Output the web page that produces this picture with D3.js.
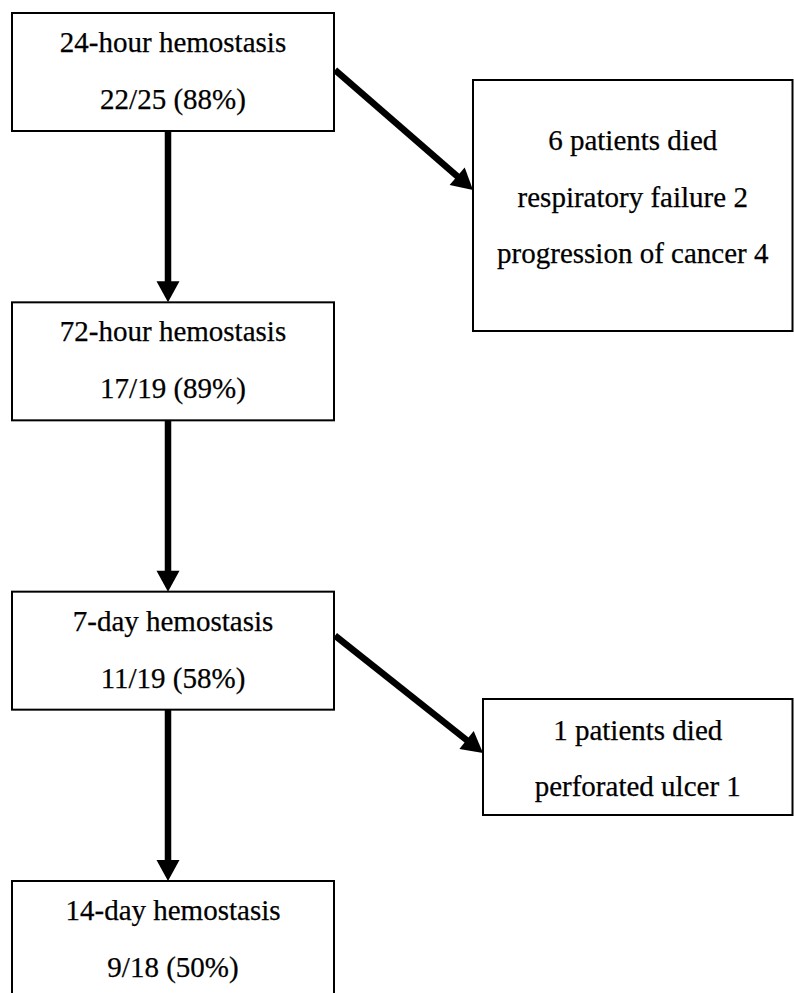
<!DOCTYPE html>
<html>
<head>
<meta charset="utf-8">
<script src="https://cdn.jsdelivr.net/npm/d3@7"></script>
<style>
  html, body { margin: 0; padding: 0; background: #fff; }
  svg { display: block; }
  text { font-family: "Liberation Serif", "Times New Roman", serif; fill: #000; stroke: #000; stroke-width: 0.25px; }
</style>
</head>
<body>
<svg id="chart" width="794" height="993"></svg>
<script>
// stages of follow-up (main column)
const stageLabels = ["24-hour hemostasis", "72-hour hemostasis", "7-day hemostasis", "14-day hemostasis"];
const stageHemostasis = [22, 17, 11, 9];
const stageTotals = [25, 19, 19, 18];
const stagePercents = [88, 89, 58, 50];

// deaths branching off to the right
const deathAfterStage = [0, 2];
const deathCounts = [6, 1];
const deathCauses = [
  ["respiratory failure 2", "progression of cancer 4"],
  ["perforated ulcer 1"]
];

const svg = d3.select("#chart");
const W = 794, H = 993;

// vertical position of each stage box
let stageY = d3.scaleLinear().domain([0, 3]).range([13, 881]);
const mainX0 = 12, mainX1 = 334, boxH = 118;
const mainCx = 168;
const fontSize = "29px";

// side boxes (deaths)
const sideBoxes = [
  { x0: 473, x1: 792.5, y0: 80, y1: 331, fromY: 57, toY: 190 },
  { x0: 483, x1: 792.5, y0: 699, y1: 815, fromY: 44, toY: 753 }
];

let arrows = svg.append("g");
let boxes = svg.append("g");

function arrow(x1, y1, x2, y2) {
  let dx = x2 - x1, dy = y2 - y1;
  let len = Math.sqrt(dx * dx + dy * dy);
  let ux = dx / len, uy = dy / len;
  let headLen = 21, headW = 11.5;
  let bx = x2 - ux * headLen, by = y2 - uy * headLen;
  arrows.append("line")
        .attr("x1", x1).attr("y1", y1)
        .attr("x2", bx + ux * 2).attr("y2", by + uy * 2)
        .attr("stroke", "#000")
        .attr("stroke-width", 6.5);
  arrows.append("path")
        .attr("d", "M" + x2 + "," + y2 +
                   "L" + (bx - uy * headW) + "," + (by + ux * headW) +
                   "L" + (bx + uy * headW) + "," + (by - ux * headW) + "Z")
        .attr("fill", "#000");
}

// vertical arrows between stages
for (let i = 0; i < stageLabels.length - 1; i++) {
  arrow(mainCx, stageY(i) + boxH, mainCx, stageY(i + 1));
}

// diagonal arrows to death boxes
deathAfterStage.forEach((s, i) => {
  let b = sideBoxes[i];
  arrow(mainX1 + 1, stageY(s) + b.fromY, b.x0, b.toY);
});

// stage boxes
let stage = boxes.selectAll("g.stage")
                 .data(stageLabels)
                 .enter()
                 .append("g")
                 .attr("class", "stage")
                 .attr("transform", (d, i) => "translate(0," + stageY(i) + ")");

stage.append("rect")
     .attr("x", mainX0)
     .attr("y", 0)
     .attr("width", mainX1 - mainX0)
     .attr("height", (d, i) => i === 3 ? H : boxH)
     .attr("fill", "#fff")
     .attr("stroke", "#000")
     .attr("stroke-width", 2);

stage.append("text")
     .attr("x", (mainX0 + mainX1) / 2)
     .attr("y", 29)
     .attr("dy", "0.35em")
     .attr("text-anchor", "middle")
     .attr("font-size", fontSize)
     .text(d => d);

stage.append("text")
     .attr("x", (mainX0 + mainX1) / 2)
     .attr("y", 86)
     .attr("dy", "0.35em")
     .attr("text-anchor", "middle")
     .attr("font-size", fontSize)
     .text((d, i) => stageHemostasis[i] + "/" + stageTotals[i] + " (" + stagePercents[i] + "%)");

// death boxes
deathCounts.forEach((n, i) => {
  let b = sideBoxes[i];
  let g = boxes.append("g");
  g.append("rect")
   .attr("x", b.x0).attr("y", b.y0)
   .attr("width", b.x1 - b.x0).attr("height", b.y1 - b.y0)
   .attr("fill", "#fff")
   .attr("stroke", "#000")
   .attr("stroke-width", 2);
  let lines = [n + " patients died"].concat(deathCauses[i]);
  let cy = (b.y0 + b.y1) / 2 + (i === 0 ? -9 : 1);
  let gap = 56.5;
  g.selectAll("text")
   .data(lines)
   .enter()
   .append("text")
   .attr("x", (b.x0 + b.x1) / 2)
   .attr("y", (d, j) => cy + (j - (lines.length - 1) / 2) * gap)
   .attr("dy", "0.35em")
   .attr("text-anchor", "middle")
   .attr("font-size", fontSize)
   .text(d => d);
});
</script>
</body>
</html>
